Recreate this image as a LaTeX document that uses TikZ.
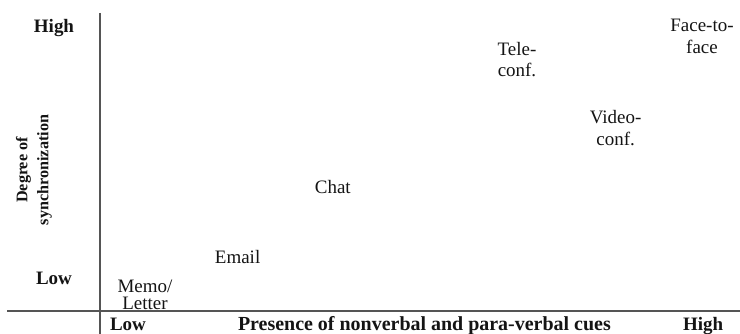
\documentclass[tikz,border=0pt]{standalone}
\usepackage{fontspec}
\setmainfont{Liberation Serif}
\usepackage{tikz}
\usetikzlibrary{positioning}
\definecolor{axisgray}{RGB}{85,85,85}
\definecolor{textblack}{RGB}{20,20,20}

\begin{document}
\begin{tikzpicture}[
  medium/.style={textblack, font=\fontsize{13.5}{15.5}\selectfont, align=center, inner sep=0pt},
  axislabel/.style={textblack, font=\fontsize{13.5}{15.5}\selectfont\bfseries, inner sep=0pt},
  axisline/.style={axisgray, line width=1pt}]

\useasboundingbox (0,0) rectangle (18.5,8.35);

% axes
\coordinate (ytop) at (2.5,8.03);
\coordinate (ybot) at (2.5,0);
\coordinate (xleft) at (0.18,0.575);
\coordinate (xright) at (18.5,0.575);
\draw[axisline] (ytop) -- (ybot);
\draw[axisline] (xleft) -- (xright);

% vertical axis labels
\node[axislabel] (yhigh) at (1.35,7.65) {High};
\node[axislabel] (ylow) at (1.35,1.4) {Low};
\node[axislabel, font=\fontsize{11.5}{15}\selectfont\bfseries, align=center, rotate=90] (ytitle) at (0.85,4.1) {Degree of\\synchronization};

% horizontal axis labels
\node[axislabel, anchor=base] (xlow) at (3.2,0.08) {Low};
\node[axislabel, anchor=base, font=\fontsize{14.2}{16}\selectfont\bfseries] (xtitle) at (10.61,0.08) {Presence of nonverbal and para-verbal cues};
\node[axislabel, anchor=base] (xhigh) at (17.58,0.08) {High};

% media
\node[medium, font=\fontsize{13.5}{12}\selectfont] (memo) at (3.625,0.975) {Memo/\\Letter};
\node[medium] (email) at (5.94,1.925) {Email};
\node[medium] (chat) at (8.32,3.675) {Chat};
\node[medium] (teleconf) at (12.925,6.86) {Tele-\\conf.};
\node[medium] (videoconf) at (15.39,5.14) {Video-\\conf.};
\node[medium] (facetoface) at (17.55,7.45) {Face-to-\\face};

\end{tikzpicture}
\end{document}
